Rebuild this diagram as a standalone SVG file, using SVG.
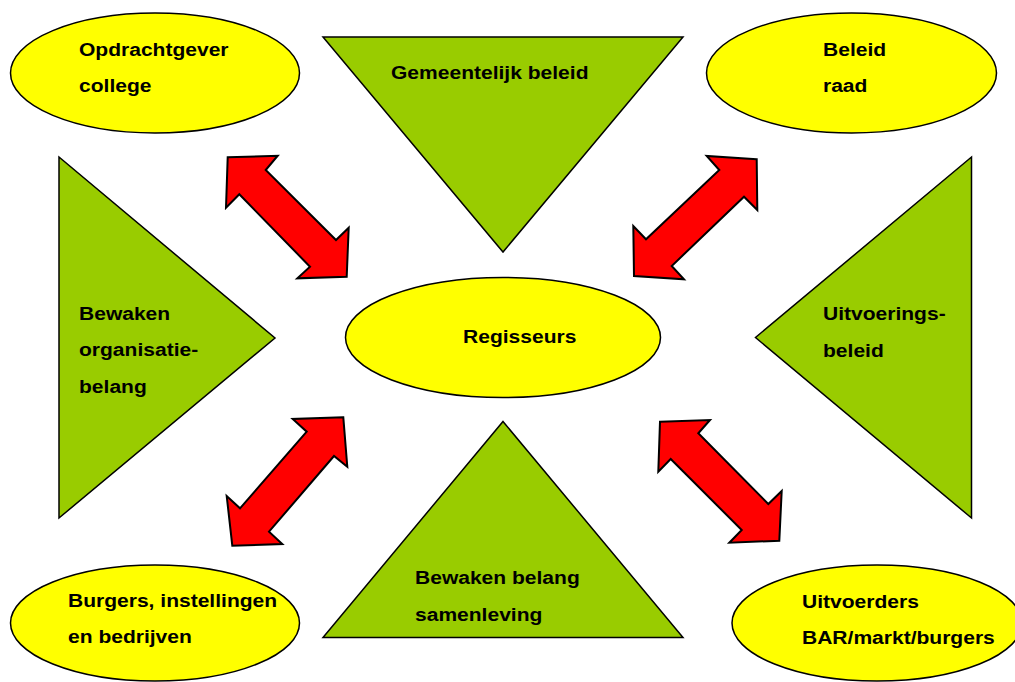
<svg xmlns="http://www.w3.org/2000/svg" width="1015" height="682" viewBox="0 0 1015 682">
<style>
.ell{fill:#FFFF00;stroke:#000;stroke-width:1.5}
.tri{fill:#99CC00;stroke:#000;stroke-width:1.5;stroke-linejoin:miter}
.arr{fill:#FF0000;stroke:#000;stroke-width:2;stroke-linejoin:miter}
text{font-family:"Liberation Sans",Arial,sans-serif;font-weight:bold;font-size:18.7px;fill:#000}
</style>
<rect width="1015" height="682" fill="#fff"/>
<g id="tri-top">
<polygon class="tri" points="323,37 683,37 503,252"/>
<text transform="translate(391,79) scale(1.125,1)">Gemeentelijk beleid</text>
</g>
<g id="tri-left">
<polygon class="tri" points="59,157 275,338 59,518"/>
<text transform="translate(79,320) scale(1.125,1)">Bewaken</text>
<text transform="translate(79,356) scale(1.125,1)">organisatie-</text>
<text transform="translate(79,392.5) scale(1.125,1)">belang</text>
</g>
<g id="tri-right">
<polygon class="tri" points="971.5,157 971.5,518 755.5,337.5"/>
<text transform="translate(823,320) scale(1.125,1)">Uitvoerings-</text>
<text transform="translate(823,356.5) scale(1.125,1)">beleid</text>
</g>
<g id="tri-bottom">
<polygon class="tri" points="503,421.5 683,637.5 323,637.5"/>
<text transform="translate(415,584) scale(1.125,1)">Bewaken belang</text>
<text transform="translate(415,620.5) scale(1.125,1)">samenleving</text>
</g>
<g id="opdrachtgever">
<ellipse class="ell" cx="155" cy="73" rx="144.5" ry="60"/>
<text transform="translate(79,56) scale(1.125,1)">Opdrachtgever</text>
<text transform="translate(79,92) scale(1.125,1)">college</text>
</g>
<g id="beleid-raad">
<ellipse class="ell" cx="851.5" cy="73" rx="145" ry="60"/>
<text transform="translate(823,56) scale(1.125,1)">Beleid</text>
<text transform="translate(823,92) scale(1.125,1)">raad</text>
</g>
<g id="regisseurs">
<ellipse class="ell" cx="503" cy="337.5" rx="157.5" ry="60"/>
<text transform="translate(463,343) scale(1.125,1)">Regisseurs</text>
</g>
<g id="burgers">
<ellipse class="ell" cx="155" cy="623" rx="144.5" ry="58"/>
<text transform="translate(68,606.5) scale(1.125,1)">Burgers, instellingen</text>
<text transform="translate(68,643) scale(1.125,1)">en bedrijven</text>
</g>
<g id="uitvoerders">
<ellipse class="ell" cx="877" cy="623" rx="145" ry="58"/>
<text transform="translate(802,608) scale(1.125,1)">Uitvoerders</text>
<text transform="translate(802,644) scale(1.125,1)">BAR/markt/burgers</text>
</g>
<g id="connectors">
<polygon class="arr" points="227.7,157.3 277.7,155.7 265.7,170 336,240 348.7,227.7 346.7,276.7 297.3,278.3 310,266.7 239.3,194.3 226,207.7"/>
<polygon class="arr" points="756.7,159.3 706.7,156 719.3,170 646,239.3 633.3,226 634,276 684,279.3 671.7,266 744,196.7 757.3,210"/>
<polygon class="arr" points="343.3,417.3 292.7,419 306.7,431.7 240,508.3 226.7,496 232.3,545.7 282.3,544 269,531.7 334,456 347.3,466.7"/>
<polygon class="arr" points="660,421.7 710,420 698.3,433.3 768.3,504 781.7,491 779.3,540.7 729.3,542.7 741.7,530 670.7,459 658.3,471.7"/>
</g>
</svg>
